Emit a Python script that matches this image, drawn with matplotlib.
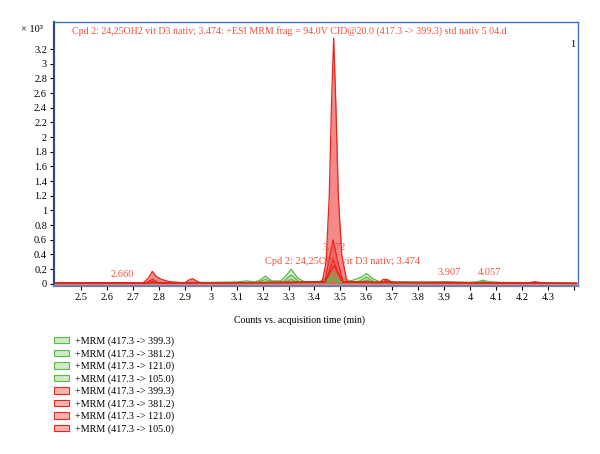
#!/usr/bin/env python3
"""
Overlay of MRM chromatograms for 24,25OH2 vit D3 (green and red sample sets).
"""
import matplotlib
matplotlib.use("Agg")
import matplotlib.pyplot as plt
from matplotlib.patches import Patch

plt.rcParams['font.family'] = ['Liberation Serif', 'DejaVu Serif']

# transitions shown in the legend
transitions = ['417.3 -> 399.3', '417.3 -> 381.2', '417.3 -> 121.0', '417.3 -> 105.0']

# green traces (time in min, counts x10^3)
g1_t = [2.40, 2.70, 3.00, 3.10, 3.14, 3.17, 3.19, 3.21, 3.235, 3.27, 3.29, 3.31, 3.335, 3.36,
        3.42, 3.45, 3.47, 3.50, 3.54, 3.58, 3.60, 3.625, 3.65, 3.80, 3.90, 4.00, 4.03, 4.05,
        4.07, 4.12, 4.41]
g1_c = [0.010, 0.012, 0.020, 0.025, 0.040, 0.025, 0.050, 0.105, 0.040, 0.040, 0.110, 0.200,
        0.080, 0.030, 0.030, 0.100, 0.160, 0.080, 0.040, 0.090, 0.140, 0.070, 0.030, 0.020,
        0.030, 0.020, 0.030, 0.050, 0.030, 0.020, 0.010]
g2_t = [2.40, 3.00, 3.18, 3.21, 3.24, 3.28, 3.31, 3.34, 3.44, 3.47, 3.50, 3.57, 3.60, 3.63,
        4.03, 4.05, 4.07, 4.41]
g2_c = [0.008, 0.012, 0.015, 0.060, 0.020, 0.030, 0.120, 0.030, 0.030, 0.110, 0.030, 0.030,
        0.090, 0.025, 0.015, 0.035, 0.015, 0.008]
g3_t = [2.40, 3.00, 3.28, 3.31, 3.34, 3.44, 3.47, 3.50, 3.57, 3.60, 3.63, 4.41]
g3_c = [0.006, 0.010, 0.015, 0.060, 0.015, 0.020, 0.070, 0.020, 0.015, 0.050, 0.015, 0.006]
g4_t = [2.40, 3.00, 3.44, 3.47, 3.50, 3.90, 4.41]
g4_c = [0.005, 0.010, 0.015, 0.040, 0.015, 0.012, 0.005]

# red traces
r1_t = [2.40, 2.65, 2.74, 2.76, 2.775, 2.79, 2.81, 2.84, 2.90, 2.915, 2.93, 2.945, 2.96,
        3.30, 3.43, 3.445, 3.457, 3.466, 3.474, 3.482, 3.492, 3.505, 3.525, 3.65, 3.665,
        3.68, 3.70, 3.90, 4.22, 4.25, 4.28, 4.41]
r1_c = [0.012, 0.015, 0.015, 0.080, 0.170, 0.100, 0.060, 0.030, 0.012, 0.050, 0.070, 0.040,
        0.012, 0.020, 0.030, 0.300, 1.200, 2.500, 3.350, 2.500, 1.200, 0.400, 0.030, 0.020,
        0.060, 0.060, 0.020, 0.020, 0.010, 0.030, 0.010, 0.005]
r2_t = [2.40, 2.75, 2.775, 2.80, 3.30, 3.44, 3.455, 3.472, 3.49, 3.51, 3.66, 3.675, 3.69, 4.41]
r2_c = [0.010, 0.012, 0.060, 0.015, 0.015, 0.030, 0.300, 0.600, 0.300, 0.030, 0.015, 0.045,
        0.015, 0.005]
r3_t = [2.40, 2.75, 2.775, 2.80, 3.44, 3.455, 3.472, 3.49, 3.51, 4.41]
r3_c = [0.008, 0.010, 0.030, 0.010, 0.025, 0.150, 0.330, 0.150, 0.025, 0.005]
r4_t = [2.40, 3.44, 3.455, 3.475, 3.495, 3.51, 4.41]
r4_c = [0.006, 0.020, 0.120, 0.250, 0.120, 0.020, 0.005]

green_traces = [(g1_t, g1_c), (g2_t, g2_c), (g3_t, g3_c), (g4_t, g4_c)]
red_traces = [(r1_t, r1_c), (r2_t, r2_c), (r3_t, r3_c), (r4_t, r4_c)]

# peak labels (text, x, y)
peak_labels = [('2.660', 2.615, 0.09), ('3.472', 3.432, 0.46),
               ('Cpd 2: 24,25OH2 vit D3 nativ; 3.474', 3.21, 0.27),
               ('3.907', 3.875, 0.12), ('4.057', 4.03, 0.12)]

title = ('Cpd 2: 24,25OH2 vit D3 nativ; 3.474: +ESI MRM frag = 94.0V CID@20.0 '
         '(417.3 -> 399.3) std nativ 5 04.d')

y_ticks = [0, 0.2, 0.4, 0.6, 0.8, 1, 1.2, 1.4, 1.6, 1.8, 2, 2.2, 2.4, 2.6, 2.8, 3, 3.2]
x_ticks = [2.5, 2.6, 2.7, 2.8, 2.9, 3, 3.1, 3.2, 3.3, 3.4, 3.5, 3.6, 3.7, 3.8, 3.9, 4,
           4.1, 4.2, 4.3, 4.4]

text_red = '#f0503c'
green_line, green_fill = '#5cb848', '#b5dfa8'
red_line, red_fill = '#e8241c', '#f05c5c'

fig = plt.figure(figsize=(6.0, 4.54), dpi=100)
ax = fig.add_axes([0.09, 0.37, 0.873, 0.5815])

for t, c in green_traces:
    ax.fill_between(t, 0, c, color=green_fill, alpha=0.6, lw=0)
    ax.plot(t, c, color=green_line, lw=0.9)
for t, c in red_traces:
    ax.fill_between(t, 0, c, color=red_fill, alpha=0.72, lw=0)
    ax.plot(t, c, color=red_line, lw=0.9)

for txt, x, y in peak_labels:
    ax.text(x, y, txt, color=text_red, fontsize=7.5)

ax.set_xlim(2.396, 4.415)
ax.set_ylim(-0.03, 3.57)
ax.set_yticks(y_ticks)
ax.set_yticklabels(['%g' % v for v in y_ticks])
ax.set_xticks(x_ticks)
ax.set_xticklabels(['%g' % v if v < 4.35 else '' for v in x_ticks])
ax.tick_params(labelsize=7.5, length=3, width=0.8, pad=2)

for side in ['top', 'right']:
    ax.spines[side].set_color('#4472c4')
    ax.spines[side].set_linewidth(1.0)
ax.spines['left'].set_color('#2c4a8a')
ax.spines['left'].set_linewidth(1.6)
ax.spines['bottom'].set_color('#6f7fa8')
ax.spines['bottom'].set_linewidth(1.6)

ax.text(0.035, 0.985, title, transform=ax.transAxes, color=text_red,
        fontsize=7.2, va='top', ha='left')
ax.text(0.995, 0.93, '1', transform=ax.transAxes, fontsize=7.5, va='top', ha='right')
fig.text(0.035, 0.936, '× 10³', fontsize=7.5, ha='left', va='center')

fig.text(0.5, 0.295, 'Counts vs. acquisition time (min)', fontsize=7, ha='center',
         va='center')

handles = []
for tr in transitions:
    handles.append(Patch(facecolor='#cfe9c6', edgecolor=green_line, lw=0.8,
                         label='+MRM (%s)' % tr))
for tr in transitions:
    handles.append(Patch(facecolor='#f7b3ac', edgecolor=red_line, lw=0.8,
                         label='+MRM (%s)' % tr))
fig.legend(handles=handles, loc='upper left', bbox_to_anchor=(0.081, 0.27),
           frameon=False, fontsize=7.3, handlelength=1.5, handleheight=0.6,
           handletextpad=0.6, labelspacing=0.29, borderpad=0)

fig.savefig('out.png', dpi=100)
